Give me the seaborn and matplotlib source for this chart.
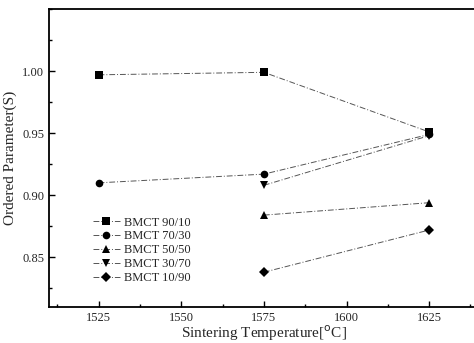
import matplotlib
matplotlib.use("Agg")
import matplotlib.pyplot as plt
import seaborn as sns
import pandas as pd
from matplotlib.ticker import MultipleLocator

series = ["BMCT 90/10", "BMCT 70/30", "BMCT 50/50", "BMCT 30/70", "BMCT 10/90"]
temps_9010 = [1525, 1575, 1625]
vals_9010 = [0.997, 0.999, 0.951]
temps_7030 = [1525, 1575, 1625]
vals_7030 = [0.910, 0.917, 0.949]
temps_5050 = [1575, 1625]
vals_5050 = [0.884, 0.894]
temps_3070 = [1575, 1625]
vals_3070 = [0.908, 0.948]
temps_1090 = [1575, 1625]
vals_1090 = [0.838, 0.872]

temps = [temps_9010, temps_7030, temps_5050, temps_3070, temps_1090]
vals = [vals_9010, vals_7030, vals_5050, vals_3070, vals_1090]
rows = []
for s, t, v in zip(series, temps, vals):
    for ti, vi in zip(t, v):
        rows.append({"series": s, "T": ti, "S": vi})
df = pd.DataFrame(rows)

sns.set_style("ticks")
plt.rcParams["font.family"] = ["Liberation Serif", "DejaVu Serif"]

fig = plt.figure(figsize=(4.74, 3.43), dpi=100)
ax = fig.add_axes([49/474, 36/343, (474-49)/474 + 0.01, (307-9)/343])

markers = dict(zip(series, ["s", "o", "^", "v", "D"]))
dashes = {s: (6, 2, 1, 2) for s in series}
sns.lineplot(data=df, x="T", y="S", hue="series", style="series",
             hue_order=series, style_order=series,
             palette=["#111111"] * 5, markers=markers, dashes=dashes,
             linewidth=0.7, markersize=5.5, markeredgewidth=0, ax=ax)
for line in ax.get_lines():
    line.set_color("#555555")
    line.set_markerfacecolor("black")
    line.set_markeredgecolor("black")

ax.set_xlim(1510, 1640)
ax.set_ylim(0.81, 1.05)
ax.xaxis.set_major_locator(MultipleLocator(25))
ax.xaxis.set_minor_locator(MultipleLocator(12.5))
ax.set_yticks([0.85, 0.90, 0.95, 1.00])
ax.set_yticklabels(["0.85", "0.90", "0.95", "1.00"])
ax.yaxis.set_minor_locator(MultipleLocator(0.025))
ax.tick_params(direction="in", which="both", labelsize=9, width=1, color="black")
ax.tick_params(which="major", length=4)
ax.tick_params(which="minor", length=2.5)
ax.set_xlabel("Sintering Temperature[$^{\\rm o}$C]", fontsize=11, labelpad=0)
ax.set_ylabel("Ordered Parameter(S)", fontsize=11, labelpad=4)
ax.spines["right"].set_visible(False)
for sp in ["left", "bottom", "top"]:
    ax.spines[sp].set_linewidth(1.3)
    ax.spines[sp].set_color("black")

leg = ax.legend(loc="lower left", bbox_to_anchor=(0.09, 0.06), frameon=False,
                fontsize=9, handlelength=2.2, handletextpad=0.3,
                labelspacing=0.15, borderaxespad=0)

fig.savefig("out.png", dpi=100)
